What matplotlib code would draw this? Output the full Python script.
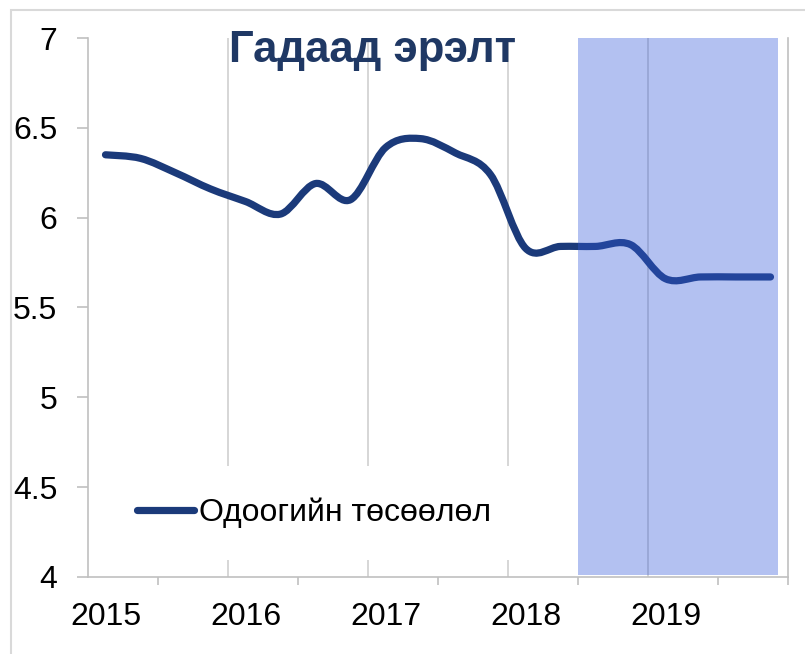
import matplotlib
matplotlib.use("Agg")
import matplotlib.pyplot as plt
from matplotlib.path import Path
from matplotlib.patches import PathPatch, Rectangle
from matplotlib.lines import Line2D
import numpy as np

plt.rcParams['font.family'] = ['Liberation Sans', 'DejaVu Sans']

# quarterly values 2015Q1 .. 2019Q4
years = ["2015", "2016", "2017", "2018", "2019"]
values = [6.35, 6.33, 6.25, 6.16,
          6.09, 6.02, 6.19, 6.10,
          6.39, 6.44, 6.36, 6.24,
          5.83, 5.84, 5.84, 5.85,
          5.66, 5.67, 5.67, 5.67]
forecast_start = 13.5   # mid 2018
forecast_end = 19.2
series_name = "Одоогийн төсөөлөл"
title = "Гадаад эрэлт"

line_color = "#1b3a7a"
grid_color = "#d0d0d0"

fig = plt.figure(figsize=(8.05, 6.54), dpi=100)
ax = fig.add_axes([88 / 805, 77 / 654, 700 / 805, 539 / 654])

x = np.arange(len(values))
y = np.array(values)

# smoothed line (catmull-rom style bezier like excel "smoothed line")
verts = [(x[0], y[0])]
codes = [Path.MOVETO]
n = len(x)
for i in range(n - 1):
    p0 = np.array([x[max(i - 1, 0)], y[max(i - 1, 0)]])
    p1 = np.array([x[i], y[i]])
    p2 = np.array([x[i + 1], y[i + 1]])
    p3 = np.array([x[min(i + 2, n - 1)], y[min(i + 2, n - 1)]])
    c1 = p1 + (p2 - p0) / 6
    c2 = p2 - (p3 - p1) / 6
    verts += [tuple(c1), tuple(c2), tuple(p2)]
    codes += [Path.CURVE4] * 3
ax.add_patch(PathPatch(Path(verts, codes), fill=False, edgecolor=line_color,
                       lw=5.2, capstyle="round", joinstyle="round", zorder=3))

# forecast shading
ax.axvspan(forecast_start, forecast_end, ymin=0.004, ymax=1.0,
           color=(0.2, 0.35, 0.85), alpha=0.37, lw=0, zorder=4)

# vertical grid lines between years
for g in np.arange(3.5, len(values) - 1, 4):
    ax.axvline(g, color=grid_color, lw=1.2, zorder=1)

ax.set_xlim(-0.5, len(values) - 0.5)
ax.set_ylim(4, 7)
ax.set_yticks(np.arange(4, 7.01, 0.5))
ax.set_yticklabels(["4", "4.5", "5", "5.5", "6", "6.5", "7"])

ax.set_xticks([1.5, 5.5, 9.5, 13.5, 17.5, 19.5])
ax.set_xticklabels([])
ax.set_xticks(np.arange(0, len(values), 4), minor=True)
ax.set_xticklabels(years, minor=True)
ax.tick_params(axis="x", which="major", length=6, width=1.2, color="#c0c0c0")
ax.tick_params(axis="x", which="minor", length=0, pad=18, labelsize=23)
ax.tick_params(axis="y", length=8, width=1.2, color="#c0c0c0", pad=14, labelsize=23)

for s in ["left", "right", "bottom"]:
    ax.spines[s].set_color("#c0c0c0")
    ax.spines[s].set_linewidth(1.2)
ax.spines["top"].set_visible(False)

ax.text(0.406, 0.955, title, transform=ax.transAxes, ha="center", va="baseline",
        fontsize=31.5, fontweight="bold", color="#1f3864", zorder=6)

handle = Line2D([], [], color=line_color, lw=5.2, solid_capstyle="round")
leg = ax.legend([handle], [series_name], loc="center left",
                bbox_to_anchor=(0.024, 0.119), borderaxespad=0, borderpad=1.0,
                handlelength=1.8, handletextpad=0.15, fontsize=23,
                frameon=True, fancybox=False)
leg.get_frame().set_edgecolor("none")
leg.get_frame().set_facecolor("white")
leg.get_frame().set_alpha(1)

# outer chart border
fig.patches.append(Rectangle((10.5 / 805, -0.1), 1.2, 1.1 - 10.5 / 654,
                             transform=fig.transFigure, fill=False,
                             edgecolor="#d9d9d9", lw=1.5))

fig.savefig("out.png", dpi=100)
